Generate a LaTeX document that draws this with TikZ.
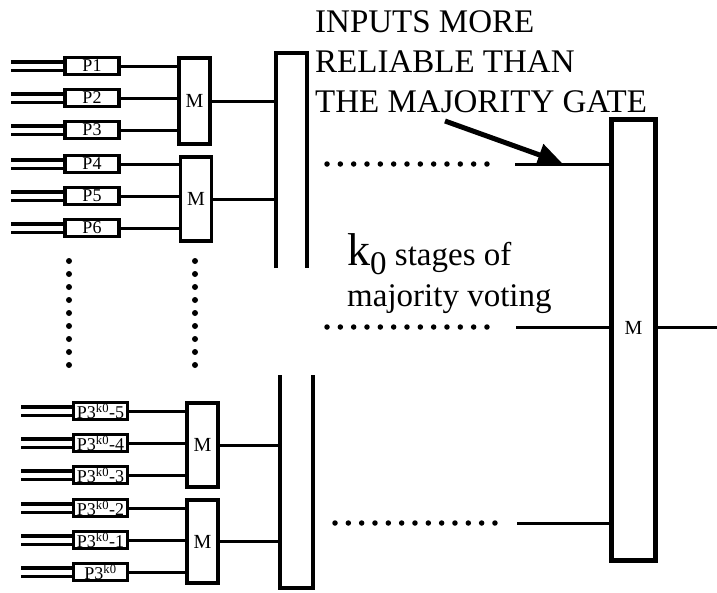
\documentclass[tikz,border=0pt]{standalone}
\usepackage{fontspec}
\setmainfont{Liberation Serif}
\usetikzlibrary{arrows.meta, positioning, calc}

\begin{document}
\begin{tikzpicture}[x=1pt, y=-1pt,
  pbox/.style={draw, line width=3.5pt, minimum width=54pt, minimum height=17pt, inner sep=0pt, font=\fontsize{18}{18}\selectfont},
  mbox/.style={draw, line width=3.5pt, minimum width=31pt, inner sep=0pt, font=\fontsize{20}{20}\selectfont},
  bigm/.style={draw, line width=5pt, minimum width=44pt, minimum height=441pt, inner sep=0pt},
  wire/.style={line width=3pt},
  feed/.style={line width=3.5pt, double, double distance=5pt},
  bar/.style={line width=4pt},
  dotrow/.style={line width=5.5pt, line cap=round, dash pattern=on 0pt off 13.33pt},
  dotcol/.style={line width=6pt, line cap=round, dash pattern=on 0pt off 13pt},
  note/.style={inner sep=0pt, align=left, font=\fontsize{33}{40}\selectfont},
  arr/.style={-{Triangle[length=24pt, width=22pt]}, line width=5pt}
]
\useasboundingbox (0,0) rectangle (717,592);

\node[pbox] (p1) at (92,66) {P1};
\node[pbox] (p2) at (92,98) {P2};
\node[pbox] (p3) at (92,130) {P3};
\node[pbox] (p4) at (92,164) {P4};
\node[pbox] (p5) at (92,196) {P5};
\node[pbox] (p6) at (92,228) {P6};
\node[pbox] (q1) at (100.5,411) {P3\textsuperscript{k0}-5};
\node[pbox] (q2) at (100.5,443) {P3\textsuperscript{k0}-4};
\node[pbox] (q3) at (100.5,475) {P3\textsuperscript{k0}-3};
\node[pbox] (q4) at (100.5,508) {P3\textsuperscript{k0}-2};
\node[pbox] (q5) at (100.5,540) {P3\textsuperscript{k0}-1};
\node[pbox] (q6) at (100.5,572) {P3\textsuperscript{k0}};

\node[mbox, minimum height=86pt] (m1) at (194.5,101) {M};
\node[mbox, minimum height=84pt] (m2) at (196,199) {M};
\node[mbox, minimum height=84pt] (m3) at (202.5,445) {M};
\node[mbox, minimum height=83pt] (m4) at (202.5,541.5) {M};

\node[bigm] (mv) at (633.5,340) {};
\node[font=\fontsize{20}{20}\selectfont, inner sep=0pt] (mvlabel) at (633.5,328) {M};

\node[note, anchor=north west] (reliable) at (315,10) {INPUTS MORE\\RELIABLE THAN\\THE MAJORITY GATE};
\node[note, anchor=north west, font=\fontsize{33}{41}\selectfont] (stages) at (347,233.5) {{\fontsize{46}{46}\selectfont k}\raisebox{-9pt}{0} stages of\\majority voting};

\coordinate (bartop) at (276,53);
\coordinate (barbot) at (280,588);
\draw[bar] (276,268) -- (bartop) -- (307,53) -- (307,268);
\draw[bar] (280,375) -- (barbot) -- (313,588) -- (313,375);

\draw[feed] (p1.west) -- ++(-52,0);
\draw[feed] (p2.west) -- ++(-52,0);
\draw[feed] (p3.west) -- ++(-52,0);
\draw[feed] (p4.west) -- ++(-52,0);
\draw[feed] (p5.west) -- ++(-52,0);
\draw[feed] (p6.west) -- ++(-52,0);
\draw[feed] (q1.west) -- ++(-51,0);
\draw[feed] (q2.west) -- ++(-51,0);
\draw[feed] (q3.west) -- ++(-51,0);
\draw[feed] (q4.west) -- ++(-51,0);
\draw[feed] (q5.west) -- ++(-51,0);
\draw[feed] (q6.west) -- ++(-51,0);

\draw[wire] (p1.east) -- (p1 -| m1.west);
\draw[wire] (p2.east) -- (p2 -| m1.west);
\draw[wire] (p3.east) -- (p3 -| m1.west);
\draw[wire] (p4.east) -- (p4 -| m2.west);
\draw[wire] (p5.east) -- (p5 -| m2.west);
\draw[wire] (p6.east) -- (p6 -| m2.west);
\draw[wire] (q1.east) -- (q1 -| m3.west);
\draw[wire] (q2.east) -- (q2 -| m3.west);
\draw[wire] (q3.east) -- (q3 -| m3.west);
\draw[wire] (q4.east) -- (q4 -| m4.west);
\draw[wire] (q5.east) -- (q5 -| m4.west);
\draw[wire] (q6.east) -- (q6 -| m4.west);

\draw[wire] (m1.east) -- (m1.east -| bartop);
\draw[wire] (m2.east) -- (m2.east -| bartop);
\draw[wire] (m3.east) -- (m3.east -| barbot);
\draw[wire] (m4.east) -- (m4.east -| barbot);

\draw[dotcol] (69,261) -- (69,365.5);
\draw[dotcol] (195,261) -- (195,365.5);

\coordinate (in1) at (515,164);
\coordinate (in2) at (516,327);
\coordinate (in3) at (517,523);
\coordinate (out) at (717,327);
\draw[dotrow] (327,164) -- (487.2,164);
\draw[dotrow] (327,327) -- (487.2,327);
\draw[dotrow] (335,523) -- (495.2,523);
\draw[wire] (in1) -- (in1 -| mv.west);
\draw[wire] (in2) -- (in2 -| mv.west);
\draw[wire] (in3) -- (in3 -| mv.west);
\draw[wire] (out -| mv.east) -- (out);

\coordinate (tail) at (445,121);
\coordinate (tip) at (562,163);
\draw[arr] (tail) -- (tip);
\end{tikzpicture}
\end{document}
